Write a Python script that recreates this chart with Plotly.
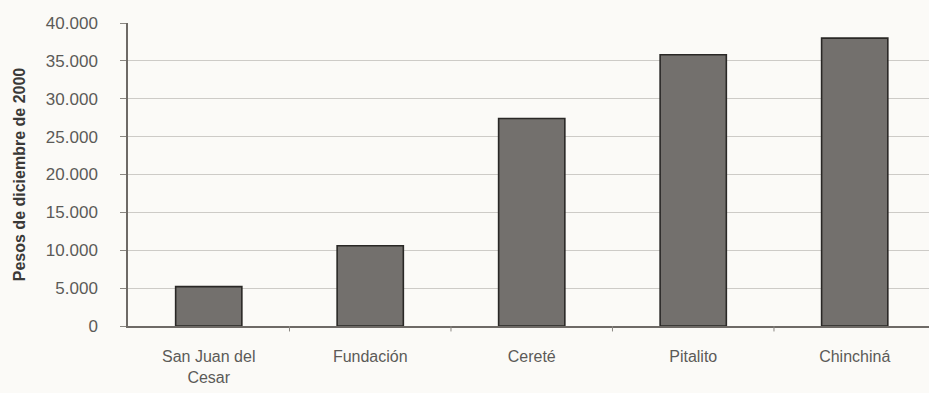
import plotly.graph_objects as go

# Municipalities and their values (pesos of December 2000)
municipios = ["San Juan del<br>Cesar", "Fundación", "Cereté", "Pitalito", "Chinchiná"]
valores = [5200, 10600, 27400, 35800, 38000]
y_ticks = [0, 5000, 10000, 15000, 20000, 25000, 30000, 35000, 40000]
y_tick_text = ["0", "5.000", "10.000", "15.000", "20.000", "25.000", "30.000", "35.000", "40.000"]

bg = "#fbfaf7"
font_family = "Liberation Sans, Arial, sans-serif"

fig = go.Figure(
    go.Bar(
        x=list(range(len(municipios))),
        y=valores,
        width=0.41,
        marker=dict(color="#73706d", line=dict(color="#2a2826", width=1.6)),
        hoverinfo="skip",
    )
)

fig.update_layout(
    width=929,
    height=393,
    margin=dict(l=128, r=0, t=23, b=67),
    paper_bgcolor=bg,
    plot_bgcolor=bg,
    showlegend=False,
    font=dict(family=font_family, size=17, color="#5b5a58"),
    xaxis=dict(
        range=[-0.5, 4.46],
        tickmode="array",
        tickvals=list(range(len(municipios))),
        ticktext=municipios,
        showgrid=False,
        showline=True,
        linecolor="#6e6a66",
        linewidth=1.5,
        ticks="",
        tickfont=dict(size=16),
        ticklabelstandoff=15,
        zeroline=False,
    ),
    yaxis=dict(
        range=[0, 40000],
        tickmode="array",
        tickvals=y_ticks,
        ticktext=y_tick_text,
        showgrid=True,
        gridcolor="#cdcbc7",
        gridwidth=1,
        showline=True,
        linecolor="#6e6a66",
        linewidth=1.5,
        ticks="outside",
        ticklen=6,
        tickcolor="#8a8782",
        tickfont=dict(size=17),
        ticklabelstandoff=19,
        zeroline=False,
        title=dict(
            text="<b>Pesos de diciembre de 2000</b>",
            font=dict(size=16, color="#3a3937"),
            standoff=16,
        ),
    ),
)

# small separators between categories on the category axis
for b in [0.5, 1.5, 2.5, 3.5]:
    fig.add_shape(
        type="line", xref="x", yref="paper",
        x0=b, x1=b, y0=0, y1=-0.018,
        line=dict(color="#8a8782", width=1),
    )

fig.write_html("out.html")
